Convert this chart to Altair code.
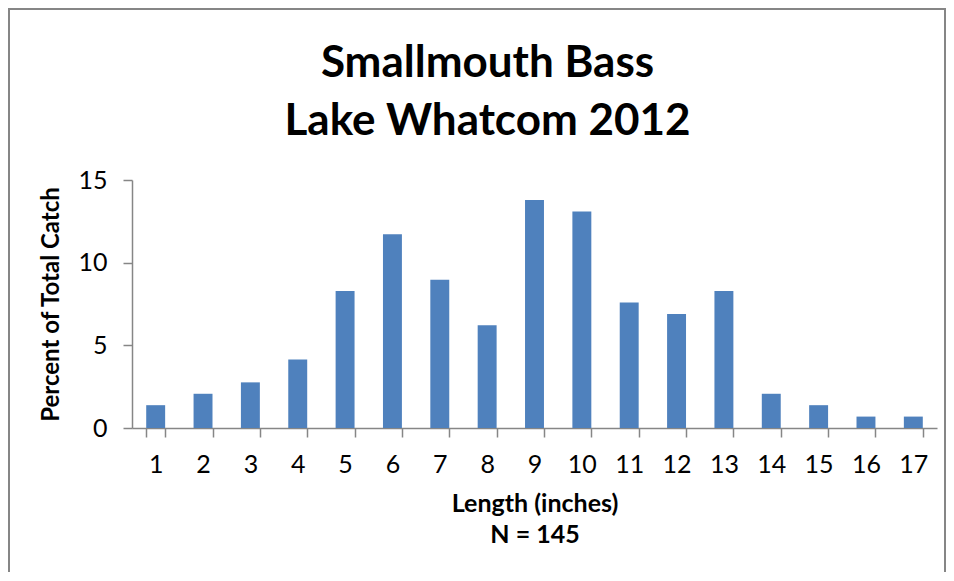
import altair as alt
import pandas as pd

lengths = list(range(1, 18))
percents = [1.38, 2.07, 2.76, 4.14, 8.28, 11.72, 8.97, 6.21, 13.79, 13.10,
            7.59, 6.90, 8.28, 2.07, 1.38, 0.69, 0.69]
y_ticks = [0, 5, 10, 15]
title_lines = ["Smallmouth Bass", "Lake Whatcom 2012"]
x_title = ["Length (inches)", "N = 145"]
y_title = "Percent of Total Catch"

FONT = "Lato"
GRAY = "#868686"

df = pd.DataFrame({"Length": lengths, "Percent": percents})

bars = alt.Chart(df).mark_bar(color="#4F81BD").encode(
    x=alt.X(
        "Length:O",
        scale=alt.Scale(paddingInner=0.6, paddingOuter=0.3),
        axis=alt.Axis(
            title=x_title, labelAngle=0, tickBand="extent",
            labelFontSize=25, labelFont=FONT, labelColor="#000000",
            labelPadding=15, tickSize=9, tickColor=GRAY, tickWidth=1.5,
            domainColor=GRAY, domainWidth=1.5,
            titleFontSize=25, titleFont=FONT, titleFontWeight="bold",
            titleColor="#000000", titlePadding=14, titleLineHeight=31,
        ),
    ),
    y=alt.Y(
        "Percent:Q",
        scale=alt.Scale(domain=[0, 15], nice=False),
        axis=alt.Axis(
            title=y_title, values=y_ticks, grid=False,
            labelFontSize=25, labelFont=FONT, labelColor="#000000",
            labelPadding=16, tickSize=9, tickColor=GRAY, tickWidth=1.5,
            domainColor=GRAY, domainWidth=1.5,
            titleFontSize=24, titleFont=FONT, titleFontWeight="bold",
            titleColor="#000000", titlePadding=14,
        ),
    ),
)

frame = alt.Chart(pd.DataFrame({"k": [0]})).mark_rect(
    filled=False, stroke=GRAY, strokeWidth=2
).encode(
    x=alt.value(-123), x2=alt.value(813),
    y=alt.value(-171), y2=alt.value(460),
)

chart = alt.layer(frame, bars).properties(
    width=805,
    height=248,
    title=alt.TitleParams(
        text=title_lines, fontSize=44, font=FONT, fontWeight="bold",
        color="#000000", anchor="middle", dx=-47, lineHeight=58, offset=0,
        dy=136,
    ),
    autosize=alt.AutoSizeParams(type="none"),
    padding={"left": 124, "top": 172, "right": 9, "bottom": 144},
).configure(background="white").configure_view(stroke=None)

chart.save("out.html", embed_options={"renderer": "svg", "actions": False})
